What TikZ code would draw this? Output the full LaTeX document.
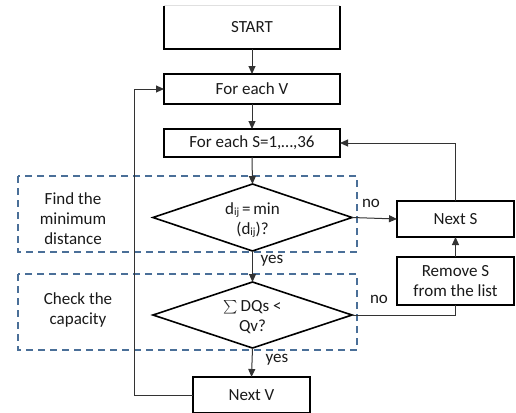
\documentclass[tikz,border=0pt]{standalone}
\usepackage{fontspec}
\usepackage{graphicx}
\setmainfont{Carlito}
\usetikzlibrary{arrows.meta,shapes.geometric}
\definecolor{dashblue}{HTML}{4A6F98}
\definecolor{txt}{HTML}{1A1A1A}
\newcommand\mysub[1]{\raisebox{-1.5pt}{\fontsize{11}{11}\selectfont #1}}
\tikzset{
  every node/.style={font=\fontsize{17}{20}\selectfont, text=txt},
  box/.style={draw=black, line width=1.6pt, rectangle, inner sep=0pt, outer sep=0pt, align=center},
  dia/.style={draw=black, line width=1.6pt, diamond, inner sep=0pt, outer sep=0pt, minimum width=199pt},
  grp/.style={draw=dashblue, line width=1.5pt, dash pattern=on 7pt off 5pt},
  conn/.style={draw=black!80, line width=1pt},
  arr/.style={conn, -{Triangle[length=8pt,width=7pt]}},
  lbl/.style={inner sep=0pt, align=center}
}
\begin{document}
\begin{tikzpicture}[x=1pt,y=-1pt]
\clip (0,0) rectangle (516,412);
\fill[white] (0,0) rectangle (516,412);
% group boxes
\draw[grp] (18,176) rectangle (357,252);
\draw[grp] (18,274) rectangle (357,350);
\node[lbl] (g1) at (73,219) {Find the\\minimum\\distance};
\node[lbl] (g2) at (78,310) {Check the\\capacity};
% nodes
\node[inner sep=0pt, outer sep=0pt, minimum width=176pt, minimum height=43pt] (start) at (252,27.5) {START};
\draw[black, line width=1.6pt] (start.north west) -- (start.south west) -- (start.south east) -- (start.north east);
\draw[black!12, line width=1pt] (start.north west) -- (start.north east);
\node[box, minimum width=176pt, minimum height=30pt] (fv) at (252,89) {For each V};
\node[box, minimum width=176pt, minimum height=28pt] (fs) at (252,143) {For each S=1,\dots,36};
\node[dia, minimum height=67pt] (d1) at (252.5,217.5) {};
\node[lbl] (t1) at (252.5,220) {d\mysub{ij}\,=\,min\\(d\mysub{ij})?};
\node[dia, minimum height=66pt] (d2) at (252.5,315) {};
\node[lbl] (t2) at (252.5,317) {\raisebox{-2pt}{\scalebox{1.35}{$\textstyle\sum$}}\,DQs <\\Qv?};
\node[box, minimum width=117pt, minimum height=36pt] (ns) at (455.5,219) {Next S};
\node[box, minimum width=117pt, minimum height=48pt] (rm) at (455.5,281) {Remove S\\from the list};
\node[box, minimum width=117pt, minimum height=36pt] (nv) at (251.5,395) {Next V};
% connectors
\draw[arr] (start.south) -- (fv.north);
\draw[arr] (fv.south) -- (fs.north);
\draw[arr] (fs.south) -- (d1.north);
\draw[arr] (d1.south) -- (d2.north);
\draw[arr] (d2.south) -- (nv.north);
\draw[arr] (d1.east) -- (ns.west);
\draw[arr] (ns.north) |- (fs.east);
\draw[conn] (d2.east) -| (rm.south);
\draw[arr] (rm.north) -- (ns.south);
\coordinate (lp) at (134,395);
\draw[arr] (nv.west) -- (lp) |- (fv.west);
% labels
\node[lbl] (y1) at (272,261) {yes};
\node[lbl] (y2) at (277,360) {yes};
\node[lbl] (n1) at (371,203) {no};
\node[lbl] (n2) at (379,299) {no};
\end{tikzpicture}
\end{document}
